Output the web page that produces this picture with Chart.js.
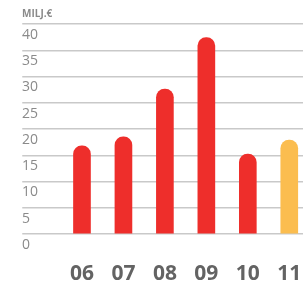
<!DOCTYPE html>
<html>
<head>
<meta charset="utf-8">
<script src="https://cdn.jsdelivr.net/npm/chart.js@4"></script>
<style>
  html, body { margin: 0; padding: 0; background: #fff; overflow: hidden; }
  #wrap { width: 310px; height: 285px; }
</style>
</head>
<body>
<div id="wrap"><canvas id="myChart"></canvas></div>
<script>
// years (2006-2011) and amounts in million euro
var years = ['06', '07', '08', '09', '10', '11'];
var amounts = [16.8, 18.5, 27.6, 37.4, 15.2, 17.9];
var barColors = ['#ee2e2b', '#ee2e2b', '#ee2e2b', '#ee2e2b', '#ee2e2b', '#fbbd4f'];
var unitLabel = 'MILJ.€';

var ctx = document.getElementById('myChart').getContext('2d');

var chart = new Chart(ctx, {
  type: 'bar',
  data: {
    labels: years,
    datasets: [{
      data: amounts,
      backgroundColor: barColors,
      barThickness: 17,
      borderRadius: { topLeft: 9, topRight: 9 },
      borderSkipped: 'start'
    }]
  },
  options: {
    responsive: true,
    maintainAspectRatio: false,
    animation: false,
    layout: { padding: { left: 22, right: 0, top: 0, bottom: 0 } },
    plugins: {
      legend: { display: false },
      tooltip: { enabled: false },
      title: {
        display: true,
        text: unitLabel,
        align: 'start',
        color: '#8a8a8a',
        font: { family: 'Open Sans', size: 10 },
        padding: { top: 8, bottom: 4 }
      }
    },
    scales: {
      x: {
        grid: { display: false },
        border: { display: false },
        ticks: {
          color: '#636363',
          padding: 19,
          font: { family: 'Open Sans', size: 21, weight: 'bold' }
        },
        afterFit: function (scale) {
          scale.height = 51;
          scale.paddingLeft = 0;
          scale.paddingRight = 0;
        }
      },
      y: {
        min: 0,
        max: 40,
        border: { display: false },
        grid: {
          color: '#c9c9c9',
          lineWidth: 1.5,
          drawTicks: true,
          tickLength: 39,
          tickColor: '#c9c9c9'
        },
        ticks: {
          stepSize: 5,
          autoSkip: false,
          crossAlign: 'far',
          labelOffset: 11,
          color: '#8a8a8a',
          font: { family: 'Open Sans', size: 14 }
        },
        afterFit: function (scale) {
          scale.width = 39.25;
          scale.paddingTop = 0;
          scale.paddingBottom = 0;
        }
      }
    }
  }
});
</script>
</body>
</html>
